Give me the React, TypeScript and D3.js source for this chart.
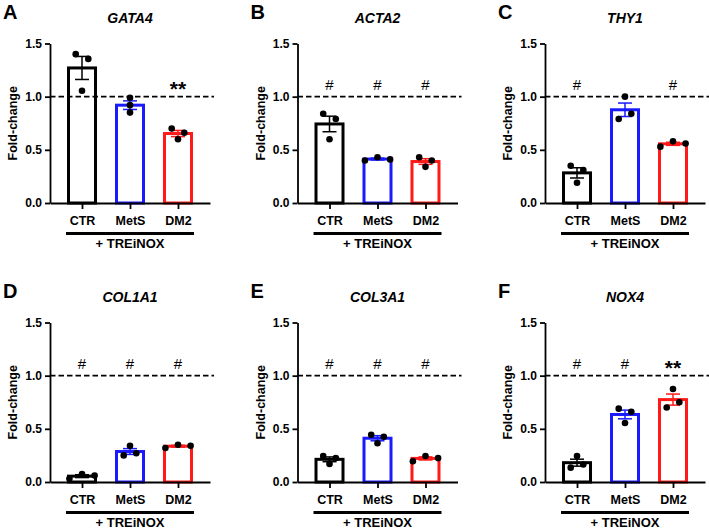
import React, { useEffect, useRef } from 'react';
import * as d3 from 'd3';

const panelLetters = ['A', 'B', 'C', 'D', 'E', 'F'];
const genes = ['GATA4', 'ACTA2', 'THY1', 'COL1A1', 'COL3A1', 'NOX4'];
const groups = ['CTR', 'MetS', 'DM2'];
const yTicks = [0, 0.5, 1.0, 1.5];
const yLabel = 'Fold-change';
const treatmentLabel = '+ TREiNOX';

// replicates per group: CTR, MetS, DM2
const gata4 = [[1.40, 1.355, 1.055], [0.99, 0.92, 0.85], [0.70, 0.66, 0.60]];
const acta2 = [[0.84, 0.79, 0.60], [0.40, 0.43, 0.41], [0.43, 0.40, 0.34]];
const thy1 = [[0.35, 0.31, 0.19], [1.00, 0.79, 0.84], [0.53, 0.58, 0.56]];
const col1a1 = [[0.03, 0.075, 0.06], [0.34, 0.25, 0.27], [0.32, 0.35, 0.34]];
const col3a1 = [[0.245, 0.225, 0.17], [0.445, 0.425, 0.365], [0.195, 0.245, 0.225]];
const nox4 = [[0.245, 0.135, 0.165], [0.69, 0.66, 0.555], [0.875, 0.70, 0.75]];

// significance marks above each group
const gata4Marks = ['', '', '**'];
const acta2Marks = ['#', '#', '#'];
const thy1Marks = ['#', '', '#'];
const col1a1Marks = ['#', '#', '#'];
const col3a1Marks = ['#', '#', '#'];
const nox4Marks = ['#', '#', '**'];

const panelValues = [gata4, acta2, thy1, col1a1, col3a1, nox4];
const panelMarks = [gata4Marks, acta2Marks, thy1Marks, col1a1Marks, col3a1Marks, nox4Marks];

const colors = ['#000000', '#1a1aff', '#ff1a1a'];
const FONT = '"Liberation Sans", Arial, sans-serif';

// GraphPad-like scatter: points close in height share a row and get spread sideways
function swarm(vals: number[], y: d3.ScaleLinear<number, number>) {
  const order = vals.map((_, i) => i).sort((a, b) => vals[b] - vals[a]);
  const rows: number[][] = [];
  order.forEach(i => {
    const last = rows[rows.length - 1];
    if (last && Math.abs(y(vals[i]) - y(vals[last[0]])) < 6.8) last.push(i);
    else rows.push([i]);
  });
  const offs = new Array(vals.length).fill(0);
  rows.forEach(r => {
    r.sort((a, b) => a - b);
    r.forEach((idx, j) => { offs[idx] = (j - (r.length - 1) / 2) * 12.6; });
  });
  return offs;
}

const Figure = () => {
  const svgRef = useRef<SVGSVGElement>(null);

  useEffect(() => {
    const svg = d3.select(svgRef.current);
    svg.selectAll('*').remove();

    svg.append('rect').attr('width', 709).attr('height', 530).attr('fill', '#fff');

    panelValues.forEach((vals, p) => {
      const col = p % 3;
      const row = Math.floor(p / 3);
      const x0 = 50 + col * 247.5;
      const x1 = x0 + 160;
      const y0 = 203 + row * 279;

      const y = d3.scaleLinear().domain([0, 1.5]).range([y0, y0 - 159.5]);
      const x = d3.scalePoint<string>().domain(groups).range([x0, x1]).padding(0.667);

      const g = svg.append('g');

      // panel letter + title
      g.append('text')
        .attr('x', x0 - 47).attr('y', y0 - 184)
        .style('font-family', FONT).style('font-size', '20px').style('font-weight', 'bold')
        .text(panelLetters[p]);
      g.append('text')
        .attr('x', (x0 + x1) / 2).attr('y', y0 - 180)
        .attr('text-anchor', 'middle')
        .style('font-family', FONT).style('font-size', '14px')
        .style('font-weight', 'bold').style('font-style', 'italic')
        .text(genes[p]);

      // bars
      const means = vals.map(v => d3.mean(v) as number);
      const sems = vals.map(v => (d3.deviation(v) as number) / Math.sqrt(v.length));

      groups.forEach((grp, k) => {
        g.append('rect')
          .attr('x', (x(grp) as number) - 13.5)
          .attr('y', y(means[k]))
          .attr('width', 27)
          .attr('height', y0 - y(means[k]))
          .attr('fill', '#fff')
          .attr('stroke', colors[k])
          .attr('stroke-width', 3);
      });

      // reference line at 1.0
      g.append('line')
        .attr('x1', x0).attr('x2', x1 + 4)
        .attr('y1', y(1)).attr('y2', y(1))
        .attr('stroke', '#000').attr('stroke-width', 1.9)
        .attr('stroke-dasharray', '5.5,3');

      // error bars (SEM) and points
      groups.forEach((grp, k) => {
        const cx = x(grp) as number;
        const hi = y(means[k] + sems[k]);
        const lo = y(means[k] - sems[k]);
        g.append('line').attr('x1', cx).attr('x2', cx).attr('y1', hi).attr('y2', lo)
          .attr('stroke', colors[k]).attr('stroke-width', 1.5);
        [hi, lo].forEach(yy => {
          g.append('line').attr('x1', cx - 7).attr('x2', cx + 7).attr('y1', yy).attr('y2', yy)
            .attr('stroke', colors[k]).attr('stroke-width', 1.5);
        });

        const offs = swarm(vals[k], y);
        g.selectAll(null)
          .data(vals[k])
          .enter()
          .append('circle')
          .attr('cx', (_, i) => cx + offs[i])
          .attr('cy', d => y(d))
          .attr('r', 3.3)
          .attr('fill', '#000');

        const mark = panelMarks[p][k];
        if (mark) {
          const star = mark === '**';
          g.append('text')
            .attr('x', cx)
            .attr('y', star ? y(1) - 1 : y(1) - 7)
            .attr('text-anchor', 'middle')
            .style('font-family', FONT)
            .style('font-size', star ? '21px' : '15px')
            .style('font-weight', star ? 'bold' : 'normal')
            .text(mark);
        }
      });

      // axes
      const yAxis = g.append('g')
        .attr('transform', `translate(${x0},0)`)
        .call(d3.axisLeft(y).tickValues(yTicks).tickFormat(d3.format('.1f')).tickSize(5).tickSizeOuter(0).tickPadding(3));
      const xAxis = g.append('g')
        .attr('transform', `translate(0,${y0})`)
        .call(d3.axisBottom(x).tickSize(6).tickSizeOuter(0).tickPadding(7));

      [yAxis, xAxis].forEach(ax => {
        ax.select('.domain').attr('stroke', '#000').attr('stroke-width', 1.8);
        ax.selectAll('.tick line').attr('stroke', '#000').attr('stroke-width', 1.8);
        ax.selectAll('.tick text')
          .attr('fill', '#000')
          .style('font-family', FONT).style('font-weight', 'bold');
      });
      yAxis.selectAll('.tick text').style('font-size', '12px');
      xAxis.selectAll('.tick text').style('font-size', '12.5px');

      g.append('text')
        .attr('transform', `translate(${x0 - 33},${(y0 + y(1.5)) / 2}) rotate(-90)`)
        .attr('text-anchor', 'middle')
        .style('font-family', FONT).style('font-size', '12.5px').style('font-weight', 'bold')
        .text(yLabel);

      // treatment bracket
      g.append('line')
        .attr('x1', (x(groups[0]) as number) - 16)
        .attr('x2', (x(groups[groups.length - 1]) as number) + 16)
        .attr('y1', y0 + 30.5).attr('y2', y0 + 30.5)
        .attr('stroke', '#000').attr('stroke-width', 3);
      g.append('text')
        .attr('x', (x0 + x1) / 2).attr('y', y0 + 44.5)
        .attr('text-anchor', 'middle')
        .style('font-family', FONT).style('font-size', '13px').style('font-weight', 'bold')
        .text(treatmentLabel);
    });
  }, []);

  return <svg ref={svgRef} width={709} height={530} style={{ position: 'absolute', left: 0, top: 0 }} />;
};

export default function App() {
  return <Figure />;
}
